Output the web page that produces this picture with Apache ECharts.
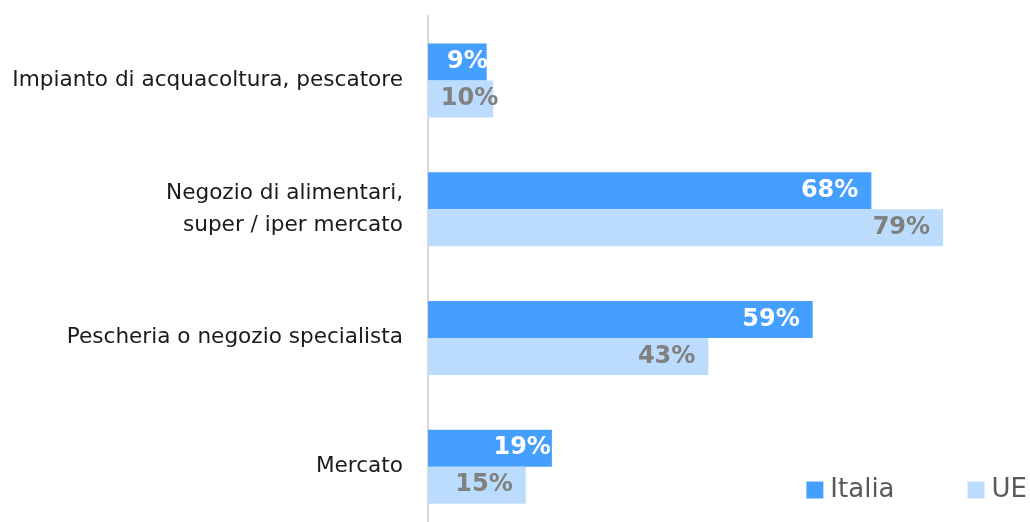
<!DOCTYPE html>
<html>
<head>
<meta charset="utf-8">
<script src="https://cdn.jsdelivr.net/npm/echarts@6/dist/echarts.min.js"></script>
<style>
html,body{margin:0;padding:0;background:#fff;}
#chart{width:1030px;height:522px;}
</style>
</head>
<body>
<div id="chart"></div>
<script>
const categories = [
  "Impianto di acquacoltura, pescatore",
  "Negozio di alimentari,\nsuper / iper mercato",
  "Pescheria o negozio specialista",
  "Mercato"
];
const seriesNames = ["Italia", "UE"];
const italia = [9, 68, 59, 19];
const ue = [10, 79, 43, 15];

const chart = echarts.init(document.getElementById('chart'));
const FONT = '"DejaVu Sans", sans-serif';

// label distance from bar end, per series / category index
const labelDist = [
  [-1, 13, 13, 1],
  [-5, 13, 13, 13]
];
function build(values, si) {
  return values.map((v, i) => ({
    value: v,
    label: { distance: labelDist[si][i] }
  }));
}

chart.setOption({
  animation: false,
  backgroundColor: '#ffffff',
  grid: { left: 428, top: 16, width: 652, height: 515, containLabel: false, outerBoundsMode: 'none' },
  xAxis: {
    type: 'value', min: 0, max: 100,
    show: false
  },
  yAxis: {
    type: 'category',
    data: categories,
    inverse: true,
    axisLine: { show: true, lineStyle: { color: '#d9d9d9', width: 2 } },
    axisTick: { show: false },
    axisLabel: {
      margin: 25,
      fontFamily: FONT,
      fontSize: 21.6,
      color: '#1a1a1a',
      lineHeight: 32,
      align: 'right'
    }
  },
  legend: {
    right: 3, top: 477,
    padding: 0,
    itemWidth: 17, itemHeight: 17,
    itemGap: 73,
    icon: 'rect',
    textStyle: { fontFamily: FONT, fontSize: 26, color: '#595959', padding: [0, 0, 0, 2] },
    data: seriesNames
  },
  series: [
    {
      name: seriesNames[0], type: 'bar',
      data: build(italia, 0),
      barWidth: 37, barGap: '0%',
      itemStyle: { color: '#449ffe' },
      label: {
        show: true, position: 'insideRight',
        formatter: '{c}%',
        fontFamily: FONT, fontWeight: 'bold', fontSize: 24, color: '#ffffff'
      }
    },
    {
      name: seriesNames[1], type: 'bar',
      data: build(ue, 1),
      barWidth: 37, barGap: '0%',
      itemStyle: { color: '#bcdcfd' },
      label: {
        show: true, position: 'insideRight',
        formatter: '{c}%',
        fontFamily: FONT, fontWeight: 'bold', fontSize: 24, color: '#808080'
      }
    }
  ]
});
</script>
</body>
</html>
